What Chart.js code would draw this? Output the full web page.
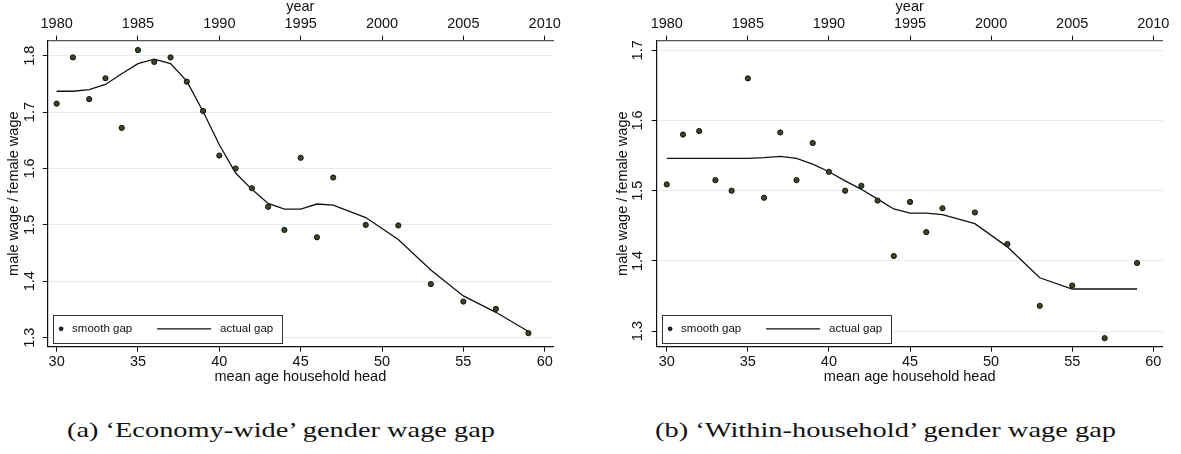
<!DOCTYPE html>
<html><head><meta charset="utf-8">
<script src="https://cdn.jsdelivr.net/npm/chart.js@4.4.1/dist/chart.umd.min.js"></script>
<style>
html,body{margin:0;padding:0;background:#fff;width:1181px;height:454px;overflow:hidden;}
canvas{position:absolute;top:0;}
#c1{left:0}
#c2{left:590px}
.cap{position:absolute;font-family:"Liberation Serif",serif;font-size:21px;line-height:21px;white-space:nowrap;transform-origin:0 0;color:#111}
</style></head><body>
<canvas id="c1" width="590" height="400"></canvas>
<canvas id="c2" width="591" height="400"></canvas>
<div class="cap" id="capA">(a) ‘Economy-wide’ gender wage gap</div>
<div class="cap" id="capB">(b) ‘Within-household’ gender wage gap</div>
<script>
// ---- data ----
const ages = [30,31,32,33,34,35,36,37,38,39,40,41,42,43,44,45,46,47,49,51,53,55,57,59];
const econSmoothGap = [1.715,1.797,1.723,1.760,1.672,1.810,1.789,1.797,1.754,1.702,1.623,1.600,1.565,1.532,1.491,1.619,1.478,1.584,1.500,1.499,1.395,1.364,1.351,1.308];
const econActualGap = [1.737,1.737,1.740,1.749,1.768,1.786,1.794,1.786,1.755,1.701,1.642,1.592,1.563,1.538,1.528,1.528,1.537,1.535,1.513,1.474,1.420,1.374,1.345,1.311];
const withinSmoothGap = [1.509,1.580,1.585,1.515,1.500,1.660,1.490,1.583,1.515,1.568,1.527,1.500,1.507,1.486,1.407,1.484,1.441,1.475,1.469,1.424,1.336,1.365,1.290,1.397];
const withinActualGap = [1.546,1.546,1.546,1.546,1.546,1.546,1.547,1.549,1.546,1.538,1.527,1.514,1.502,1.488,1.474,1.468,1.468,1.466,1.453,1.420,1.376,1.360,1.360,1.360];
const ageTicks = [30,35,40,45,50,55,60];
const yearTicks = [1980,1985,1990,1995,2000,2005,2010];
const econYTicks = [1.3,1.4,1.5,1.6,1.7,1.8];
const withinYTicks = [1.3,1.4,1.5,1.6,1.7];
const seriesLabels = ['smooth gap','actual gap'];
const xTitle = 'mean age household head';
const x2Title = 'year';
const yTitle = 'male wage / female wage';
const yearOffset = 1950;

const INK = '#111';
const FONT = 'Liberation Sans, Arial, sans-serif';

const legendPlugin = {
  id: 'boxLegend',
  afterDraw(chart) {
    const ctx = chart.ctx, ca = chart.chartArea;
    const left = ca.left + 5, w = 229.4, h = 27.7;
    const bottom = ca.bottom - 4, top = bottom - h, mid = top + h / 2;
    ctx.save();
    ctx.fillStyle = '#fff';
    ctx.fillRect(left, top, w, h);
    ctx.strokeStyle = '#333';
    ctx.lineWidth = 1;
    ctx.strokeRect(Math.round(left) + 0.5, Math.round(top) + 0.5, Math.round(w), Math.round(h));
    const ds0 = chart.data.datasets[0], ds1 = chart.data.datasets[1];
    ctx.beginPath();
    ctx.arc(left + 8.4, mid, 2.4, 0, Math.PI * 2);
    ctx.fillStyle = '#1d2633';
    ctx.fill();
    ctx.font = '11.5px ' + FONT;
    ctx.fillStyle = INK;
    ctx.textBaseline = 'middle';
    ctx.textAlign = 'left';
    ctx.fillText(ds0.label, left + 19.4, mid);
    ctx.beginPath();
    ctx.moveTo(left + 104.4, mid);
    ctx.lineTo(left + 158.4, mid);
    ctx.strokeStyle = ds1.borderColor;
    ctx.lineWidth = ds1.borderWidth;
    ctx.stroke();
    ctx.fillText(ds1.label, left + 167.4, mid);
    ctx.restore();
  }
};

function makeChart(id, smooth, actual, yTicks, cfg) {
  const tickFont = {family: FONT, size: 14.5, lineHeight: 1};
  return new Chart(document.getElementById(id), {
    type: 'line',
    data: {
      datasets: [
        {label: seriesLabels[0], data: ages.map((a, i) => ({x: a, y: smooth[i]})),
         showLine: false, pointRadius: 2.6, pointBackgroundColor: '#3a4820',
         pointBorderColor: '#111', pointBorderWidth: 1, xAxisID: 'x', yAxisID: 'y', order: 0},
        {label: seriesLabels[1], data: ages.map((a, i) => ({x: a, y: actual[i]})),
         borderColor: '#111', borderWidth: 1.3, pointRadius: 0, fill: false, tension: 0,
         xAxisID: 'x', yAxisID: 'y', order: 1}
      ]
    },
    options: {
      responsive: false, animation: false, devicePixelRatio: 1,
      layout: {padding: {left: 0, top: 0, right: cfg.padRight, bottom: 0}},
      plugins: {legend: {display: false}, tooltip: {enabled: false}},
      scales: {
        x: {
          type: 'linear', position: 'bottom', bounds: 'data', min: cfg.xMin, max: cfg.xMax,
          afterBuildTicks: s => { s.ticks = ageTicks.map(v => ({value: v})); },
          afterFit: s => { s.height = 53.3; },
          grid: {display: true, drawOnChartArea: false, drawTicks: true, tickLength: 5, tickColor: INK, tickWidth: 1},
          border: {display: true, color: INK, width: 1.2},
          ticks: {color: INK, font: tickFont, padding: 2.75, maxRotation: 0, autoSkip: false, callback: v => String(v)},
          title: {display: true, text: xTitle, color: INK, font: tickFont, padding: {top: 0, bottom: 16.05}}
        },
        x2: {
          type: 'linear', position: 'top', bounds: 'data', min: cfg.xMin + yearOffset, max: cfg.xMax + yearOffset,
          afterBuildTicks: s => { s.ticks = yearTicks.map(v => ({value: v})); },
          afterFit: s => { s.height = 40.7; },
          grid: {display: true, drawOnChartArea: false, drawTicks: true, tickLength: 5, tickColor: INK, tickWidth: 1},
          border: {display: true, color: '#555', width: 1.2},
          ticks: {color: INK, font: tickFont, padding: 4.15, maxRotation: 0, autoSkip: false, callback: v => String(v)},
          title: {display: true, text: x2Title, color: INK, font: tickFont, padding: {top: 0.2, bottom: 0}}
        },
        y: {
          type: 'linear', position: 'left', bounds: 'data', min: cfg.yMin, max: cfg.yMax,
          afterBuildTicks: s => { s.ticks = yTicks.map(v => ({value: v})); },
          afterFit: s => { s.width = cfg.yWidth; },
          grid: {display: true, drawOnChartArea: true, color: '#e3ecef', lineWidth: 1, drawTicks: true, tickLength: 5, tickColor: INK, tickWidth: 1},
          border: {display: true, color: INK, width: 1.2},
          ticks: {color: INK, font: tickFont, padding: cfg.yTickPad, minRotation: 90, maxRotation: 90, crossAlign: 'center', autoSkip: false, callback: v => v.toFixed(1)},
          title: {display: true, text: yTitle, color: INK, font: tickFont, padding: {top: cfg.yTitlePad, bottom: 0}}
        }
      }
    },
    plugins: [legendPlugin]
  });
}

makeChart('c1', econSmoothGap, econActualGap, econYTicks,
  {xMin: 29.45, xMax: 60.51, yMin: 1.284, yMax: 1.8266, padRight: 37, yWidth: 47.7, yTickPad: 2.3, yTitlePad: 6.85});
makeChart('c2', withinSmoothGap, withinActualGap, withinYTicks,
  {xMin: 29.38, xMax: 60.58, yMin: 1.2778, yMax: 1.7137, padRight: 18.3, yWidth: 66.7, yTickPad: 3.3, yTitlePad: 26.05});

function placeCaption(id, left, baseline, width) {
  const el = document.getElementById(id);
  el.style.left = left + 'px';
  el.style.top = (baseline - 17.6) + 'px';
  const w = el.getBoundingClientRect().width;
  el.style.transform = 'scaleX(' + (width / w) + ')';
}
placeCaption('capA', 66.7, 437.3, 428);
placeCaption('capB', 655, 437.3, 461);
</script>
</body></html>
